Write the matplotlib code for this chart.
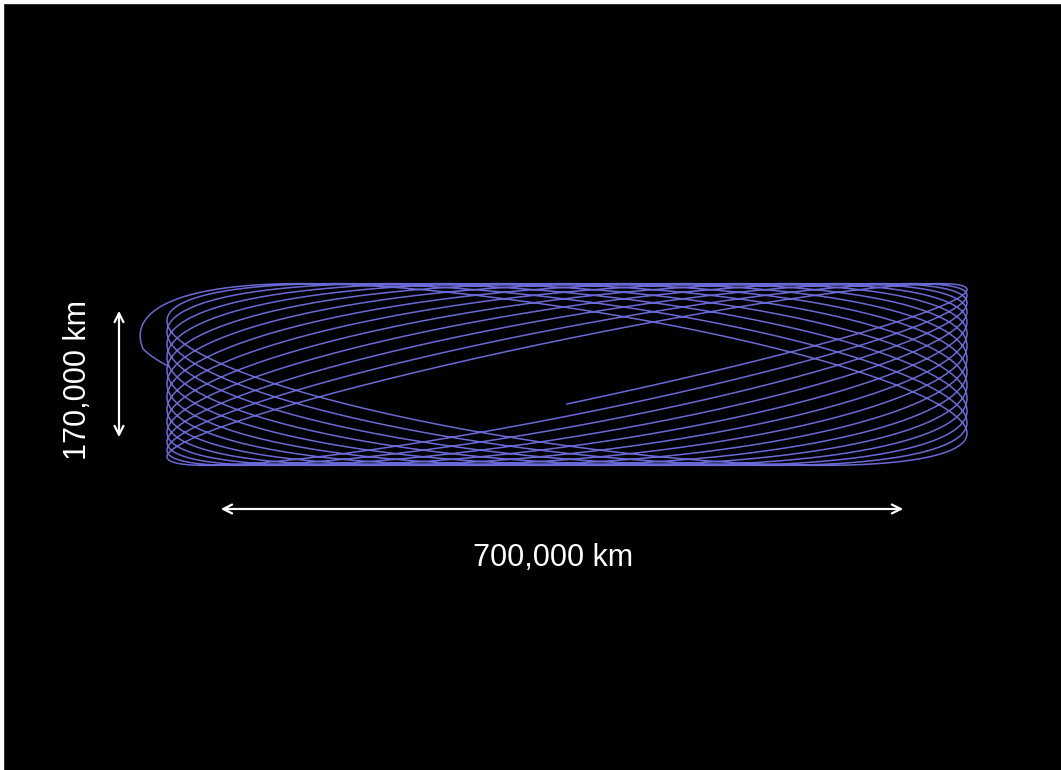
import numpy as np
import matplotlib
matplotlib.use("Agg")
import matplotlib.pyplot as plt

# orbit values (km, centre of the orbit at 0,0)
KM_PER_PX = 700000 / 688
x_amp_km = 407000          # half width of the normal loops
x_amp_last_km = 440000     # half width the final (departure) arc grows to
y_amp_km = 92500           # half height
n_revs = 13.75             # revolutions from the start point to the last left turn
phase_start = 0.33         # rad, y-x phase at the start point
phase_end = 2.35           # rad, y-x phase at the last left turn
phase_last_shift = -0.30   # rad, extra phase change on the final arc
tail = 0.40                # rad past the last left turn

size_label_x = "700,000 km"
size_label_y = "170,000 km"

plt.rcParams['font.family'] = ['Liberation Sans', 'DejaVu Sans']

fig = plt.figure(figsize=(10.61, 7.70), dpi=100, facecolor='black', edgecolor='black')
ax = fig.add_axes([0, 0, 1, 1])
ax.set_facecolor('black')
s = KM_PER_PX
ax.set_xlim(-567 * s, 494 * s)
ax.set_ylim(-395.5 * s, 374.5 * s)
ax.axis('off')

th0 = -np.pi / 2
th_turn = th0 + 2 * np.pi * n_revs
th = np.linspace(th0, th_turn + tail, 40000)
ramp = np.clip((th - (th_turn - np.pi / 2)) / (np.pi / 2 + 0.2), 0, 1) ** 2
phase = phase_start + (phase_end - phase_start) * (th - th0) / (th_turn - th0)
phase = phase + phase_last_shift * ramp
amp = x_amp_km + (x_amp_last_km - x_amp_km) * ramp
x = amp * np.cos(th)
y = y_amp_km * np.cos(th - phase)
ax.plot(x, y, color='#7070e2', lw=1.1, alpha=0.95)

# size arrows
arrow = dict(arrowstyle='<->', color='white', lw=1.6, mutation_scale=16)
ax.annotate('', xy=(906 * s - 567 * s, -134.5 * s), xytext=(218 * s - 567 * s, -134.5 * s),
            arrowprops=arrow)
ax.annotate('', xy=(-448 * s, 66.5 * s), xytext=(-448 * s, -65.5 * s),
            arrowprops=arrow)
ax.text(-14 * s, -184 * s, size_label_x, color='white', fontsize=22,
        ha='center', va='center')
ax.text(-489 * s, -5 * s, size_label_y, color='white', fontsize=22,
        ha='center', va='center', rotation=90)

# thin light frame on the top and left edges, as in the source image
fig.patches.append(plt.Rectangle((0, 0), 3 / 1061, 1, transform=fig.transFigure,
                                 color='white', zorder=10))
fig.patches.append(plt.Rectangle((0, 1 - 3 / 770), 1, 3 / 770, transform=fig.transFigure,
                                 color='white', zorder=10))

fig.savefig('out.png', dpi=100, facecolor='black', edgecolor='black')
